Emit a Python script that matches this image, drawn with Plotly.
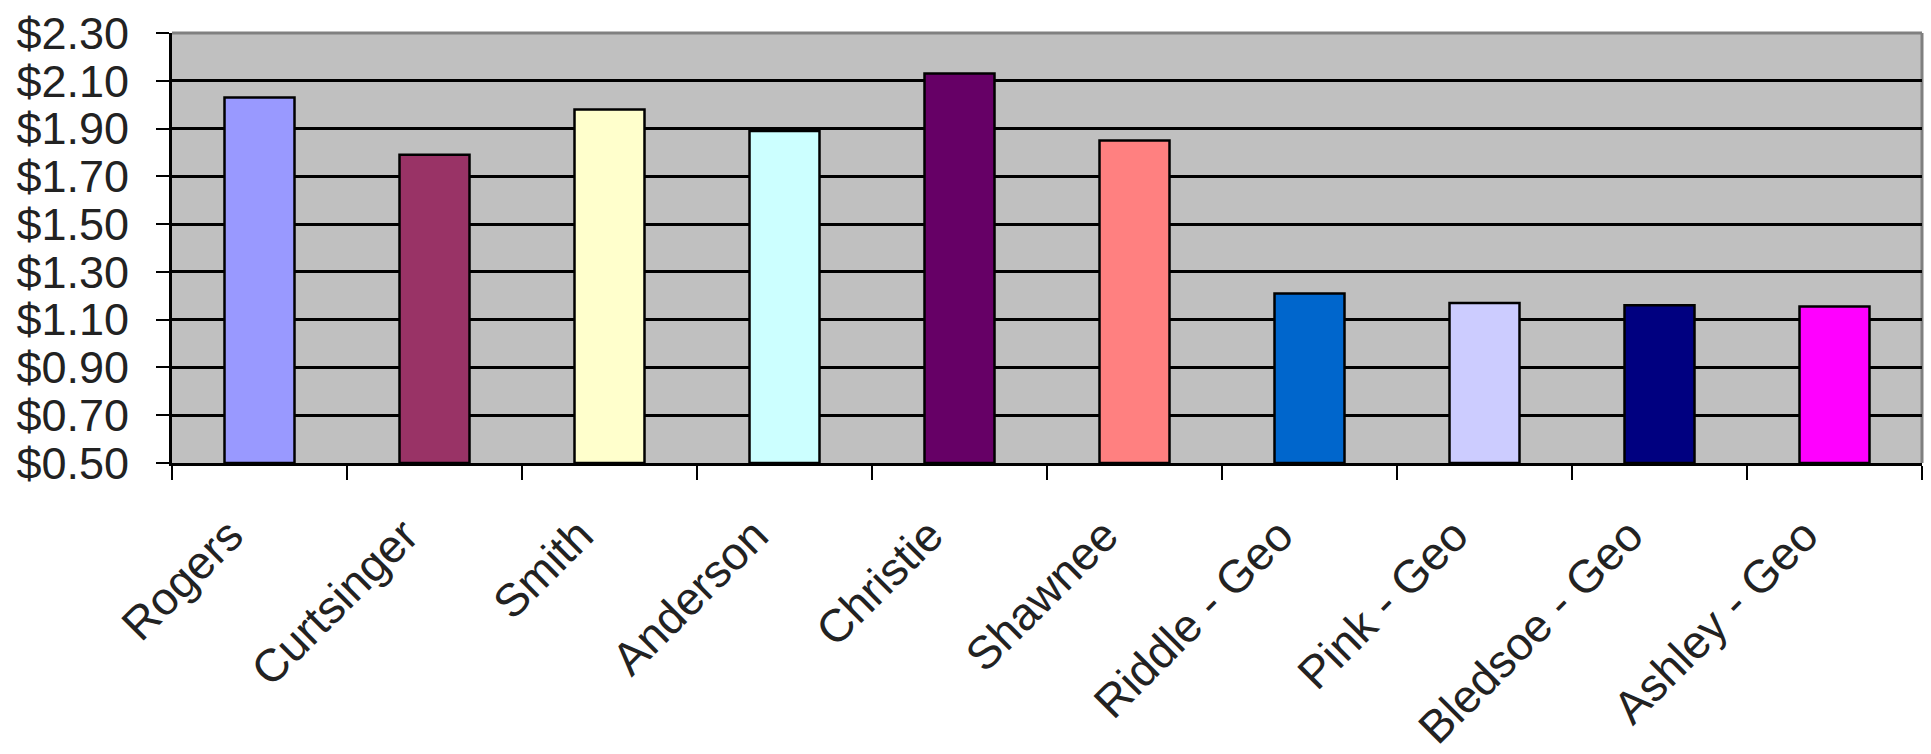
import plotly.graph_objects as go

categories = ["Rogers", "Curtsinger", "Smith", "Anderson", "Christie", "Shawnee",
              "Riddle - Geo", "Pink - Geo", "Bledsoe - Geo", "Ashley - Geo"]
values = [2.03, 1.79, 1.98, 1.89, 2.13, 1.85, 1.21, 1.17, 1.16, 1.155]
colors = ["#9999FF", "#993366", "#FFFFCC", "#CCFFFF", "#660066", "#FF8080",
          "#0066CC", "#CCCCFF", "#000080", "#FF00FF"]
ytick_vals = [0.5, 0.7, 0.9, 1.1, 1.3, 1.5, 1.7, 1.9, 2.1, 2.3]
ytick_text = ["$0.50", "$0.70", "$0.90", "$1.10", "$1.30", "$1.50", "$1.70", "$1.90", "$2.10", "$2.30"]
axis_base = 0.5

fig = go.Figure(go.Bar(
    x=categories,
    y=[v - axis_base for v in values],
    base=axis_base,
    marker=dict(color=colors, line=dict(color="#000000", width=2.5)),
    width=0.4,
))

font = "Liberation Sans, Arial, sans-serif"
fig.update_layout(
    width=1931, height=754,
    margin=dict(l=172, r=9, t=33, b=291),
    paper_bgcolor="white",
    plot_bgcolor="#C0C0C0",
    showlegend=False,
    font=dict(family=font, color="#222222", size=36),
    xaxis=dict(
        type="category",
        automargin=False,
        tickangle=-45,
        ticks="outside", ticklen=14, tickwidth=2, tickcolor="#000000",
        tickson="boundaries",
        ticklabelstandoff=24,
        ticklabelshift=-30,
        showline=True, linecolor="#000000", linewidth=3,
        showgrid=False,
        tickfont=dict(family=font, size=46, color="#222222"),
    ),
    yaxis=dict(
        range=[0.5, 2.3],
        automargin=False,
        tickmode="array", tickvals=ytick_vals, ticktext=ytick_text,
        ticks="outside", ticklen=13, tickwidth=2, tickcolor="#000000",
        ticklabelstandoff=18,
        showline=True, linecolor="#000000", linewidth=3,
        showgrid=True, gridcolor="#000000", gridwidth=3,
        zeroline=False,
        tickfont=dict(family=font, size=45, color="#222222"),
    ),
    shapes=[
        dict(type="line", xref="paper", yref="paper", x0=0, x1=1, y0=1, y1=1,
             line=dict(color="#808080", width=3), layer="below"),
        dict(type="line", xref="paper", yref="paper", x0=1, x1=1, y0=0, y1=1,
             line=dict(color="#808080", width=3), layer="below"),
    ],
)

fig.write_html("out.html")
